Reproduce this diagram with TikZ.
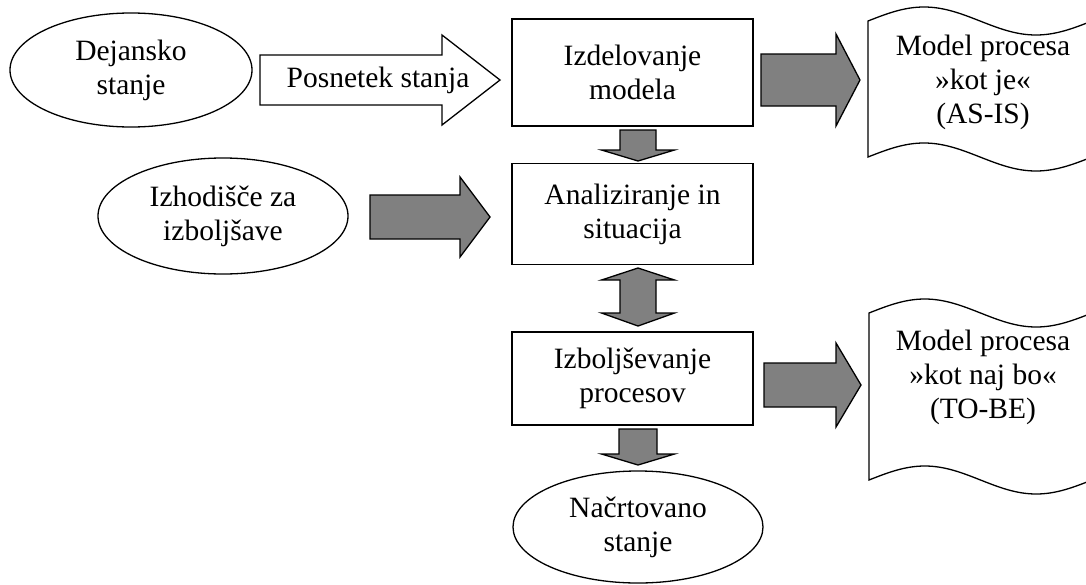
\documentclass[tikz,border=0pt]{standalone}
\usepackage{fontspec}
\setmainfont{Liberation Serif}
\usetikzlibrary{shapes.geometric}
\definecolor{arrgray}{RGB}{128,128,128}
\newcommand\hblock[7]{\draw[#1] (#2,#5-#6) -- (#3,#5-#6) -- (#3,#5-#7) -- (#4,#5) -- (#3,#5+#7) -- (#3,#5+#6) -- (#2,#5+#6) -- cycle;}
\newcommand\vblock[7]{\draw[#1] (#2-#6,#3) -- (#2-#6,#4) -- (#2-#7,#4) -- (#2,#5) -- (#2+#7,#4) -- (#2+#6,#4) -- (#2+#6,#3) -- cycle;}
\newcommand\docshape[5]{% x0, x1, ytop, ybot, amplitude
  \draw[doc] (#1,#3) sin ({#1+(#2-#1)/4},#3-#5) cos ({#1+(#2-#1)/2},#3) sin ({#1+3*(#2-#1)/4},#3+#5) cos (#2,#3)
    -- (#2,#4) sin ({#2-(#2-#1)/4},#4+#5) cos ({#1+(#2-#1)/2},#4) sin ({#1+(#2-#1)/4},#4-#5) cos (#1,#4) -- cycle;}
\begin{document}
\begin{tikzpicture}[x=1pt,y=-1pt,
  every node/.style={font=\fontsize{29.5}{34}\selectfont, align=center, inner sep=0pt},
  ln/.style={line width=1.3pt},
  ell/.style={ellipse, draw, ln},
  boxn/.style={rectangle, draw, ln, minimum width=241pt},
  garrow/.style={fill=arrgray, draw, ln, line join=miter},
  warrow/.style={fill=white, draw, ln, line join=miter},
  doc/.style={draw, ln, fill=white},
  lbl/.style={}]
\useasboundingbox (0,0) rectangle (1086,584);

% ellipses
\node[ell, minimum width=242pt, minimum height=114pt] (dej) at (131,70) {Dejansko\\stanje};
\node[ell, minimum width=250pt, minimum height=116pt] (izh) at (223,216) {Izhodišče za\\izboljšave};
\node[ell, minimum width=250pt, minimum height=112pt] (nac) at (638,527) {Načrtovano\\stanje};

% boxes
\node[boxn, minimum height=107pt] (izd) at (632.5,72.5) {Izdelovanje\\modela};
\node[boxn, minimum height=101pt] (ana) at (632.5,214) {Analiziranje in\\situacija};
\node[boxn, minimum height=93pt] (izb) at (632.5,378.5) {Izboljševanje\\procesov};

% documents (right edge runs past the page edge)
\docshape{868}{1092}{21}{157}{14}
\node[lbl] (asis) at (983,82) {Model procesa\\»kot je«\\(AS-IS)};
\docshape{869}{1092}{313}{480}{14}
\node[lbl] (tobe) at (983,377) {Model procesa\\»kot naj bo«\\(TO-BE)};

% white arrow
\hblock{warrow}{260}{442}{500}{80}{25}{45}
\node[lbl] (posn) at (378,80) {Posnetek stanja};

% gray arrows
\hblock{garrow}{761}{836}{860}{80}{26}{46}
\hblock{garrow}{370}{460}{490}{217}{22}{40}
\hblock{garrow}{764}{836}{861}{385}{22}{42}
\vblock{garrow}{638}{130}{150}{161}{18}{36.5}
\vblock{garrow}{638}{429}{454}{465}{19}{36.5}
% double arrow
\draw[garrow] (638,268) -- (674.5,280) -- (656,280) -- (656,313) -- (674.5,313) -- (638,326)
  -- (601.5,313) -- (620,313) -- (620,280) -- (601.5,280) -- cycle;
\end{tikzpicture}
\end{document}
